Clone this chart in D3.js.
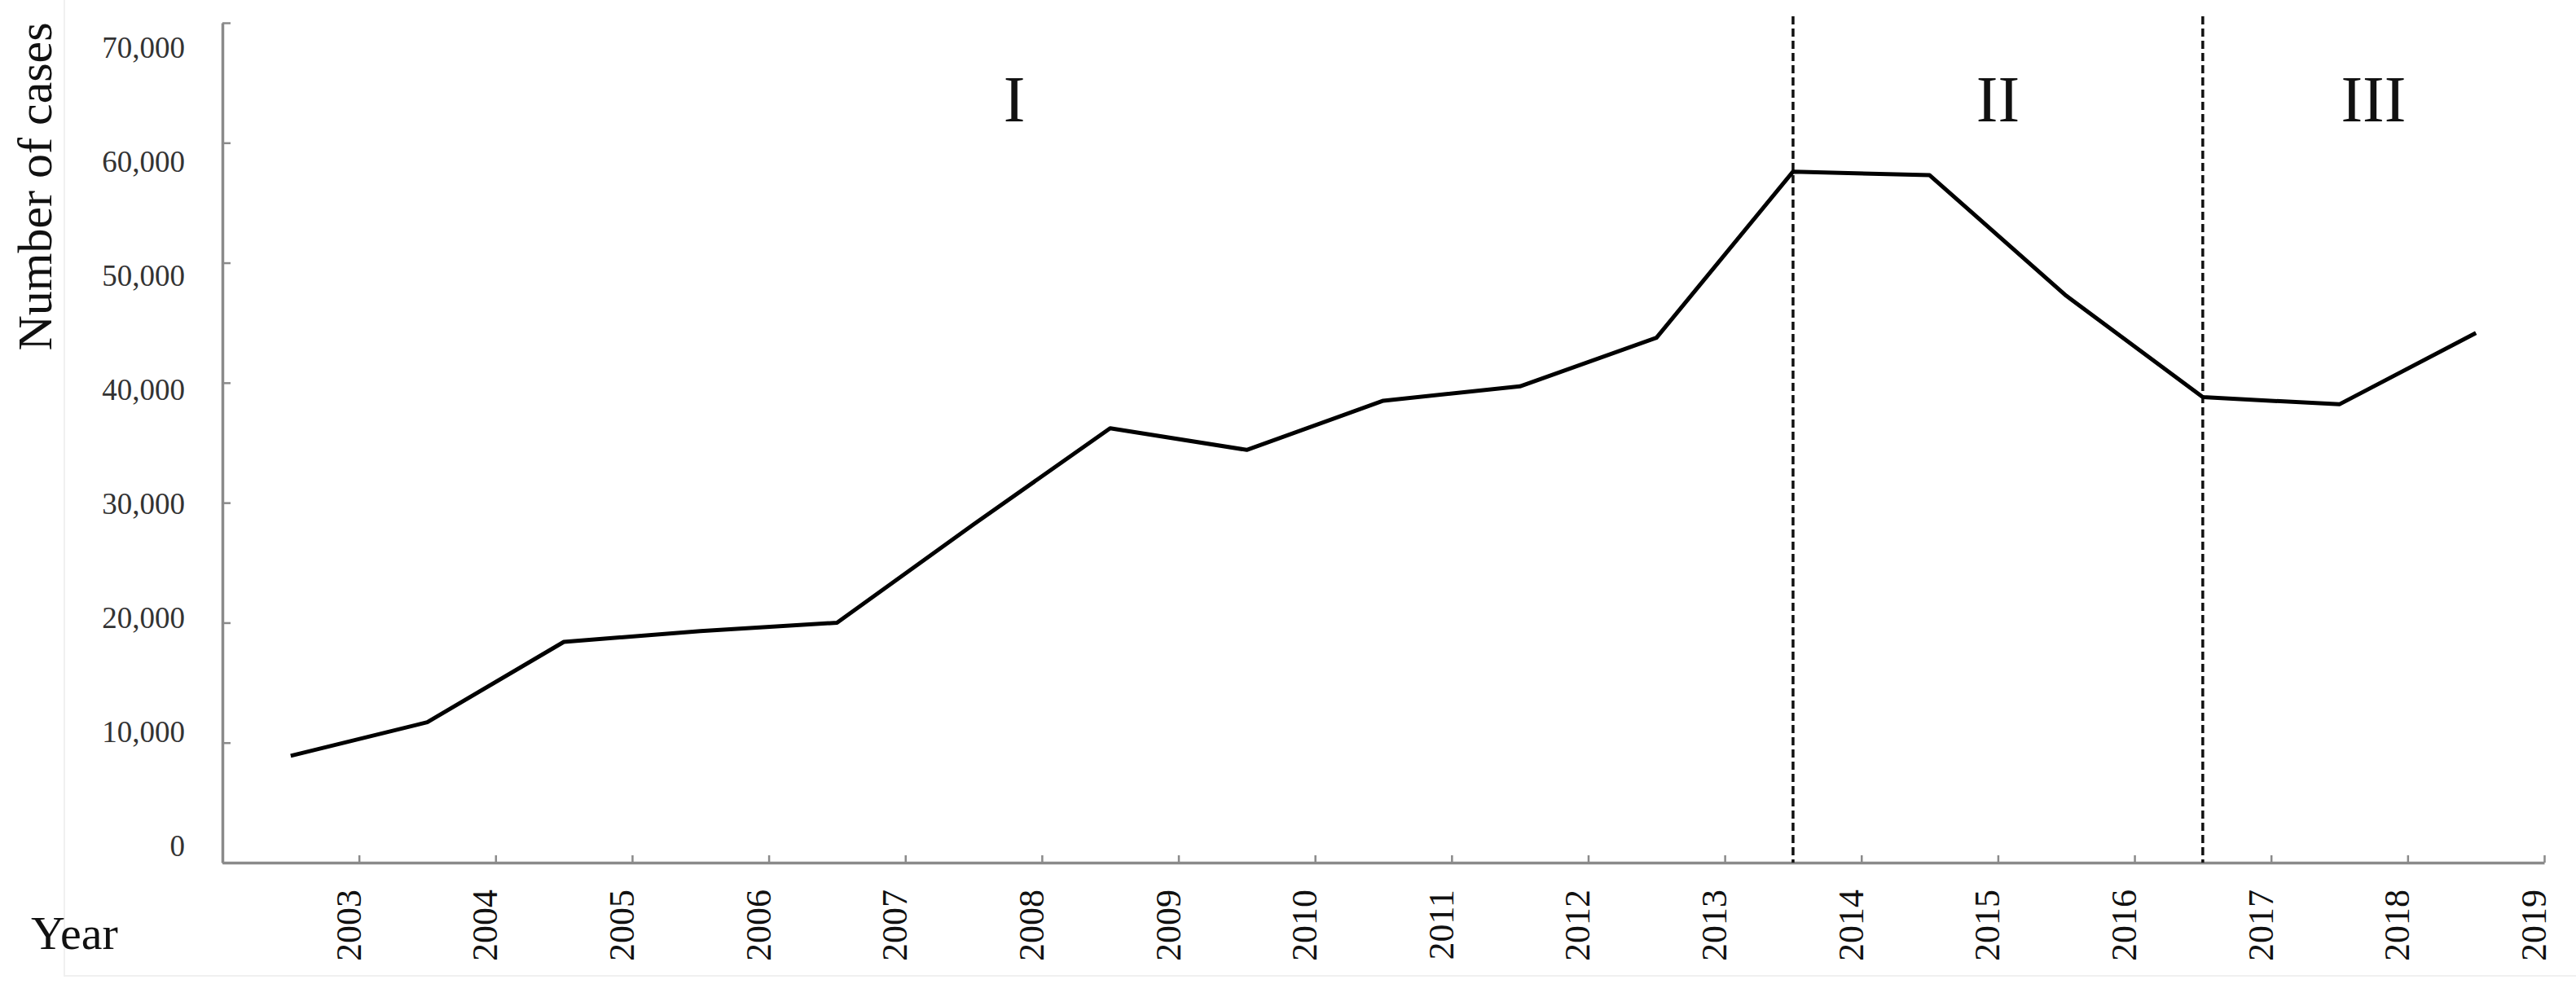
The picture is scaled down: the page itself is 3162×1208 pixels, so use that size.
<!DOCTYPE html>
<html>
<head>
<meta charset="utf-8">
<script src="https://cdn.jsdelivr.net/npm/d3@7"></script>
<style>
  html, body { margin: 0; padding: 0; background: #ffffff; }
  svg { display: block; }
  text { font-family: "Liberation Serif", "Times New Roman", serif; }
</style>
</head>
<body>
<svg id="chart" width="3162" height="1208"></svg>
<script>
// ---- Data ----
const years = ["2003","2004","2005","2006","2007","2008","2009","2010","2011",
               "2012","2013","2014","2015","2016","2017","2018","2019"];
const cases = [8900, 11700, 18400, 19300, 20000, 28200, 36200, 34400, 38500,
               39700, 43750, 57600, 57300, 47250, 38800, 38200, 44150];
const yTicks = [0, 10000, 20000, 30000, 40000, 50000, 60000, 70000];
const phaseLabels = ["I", "II", "III"];
const phaseBreakYears = ["2014", "2017"];
const yTitle = "Number of cases";
const xTitle = "Year";

(function () {
  // ---- Layout ----
  const W = 3162, H = 1208;
  const plotLeft = 273, plotRight = 3123, plotTop = 28, plotBottom = 1059;
  const axisColor = "#8a8a8a";

  const svg = d3.select("#chart");

  // faint frame of the original figure
  svg.append("path")
    .attr("d", `M79,0V1198H${W}`)
    .attr("fill", "none")
    .attr("stroke", "#f0f0f0")
    .attr("stroke-width", 2);

  const x = d3.scaleBand().domain(years).range([plotLeft, plotRight]).paddingInner(0).paddingOuter(0);
  const xEdge = d3.scaleLinear().domain([0, years.length]).range([plotLeft, plotRight]);
  const y = d3.scaleLinear().domain([0, 70000]).range([plotBottom, plotTop]);
  const yLabel = d3.scaleLinear().domain([0, 70000]).range([1038, 58]);

  const cx = d => x(d) + x.bandwidth() / 2;

  // ---- X axis ----
  const xAxis = d3.axisBottom(xEdge)
    .tickValues(d3.range(1, years.length + 1))
    .tickSize(-9)
    .tickSizeOuter(0)
    .tickFormat("");
  const gx = svg.append("g").attr("transform", `translate(0,${plotBottom})`).call(xAxis);
  gx.select(".domain").attr("stroke", axisColor).attr("stroke-width", 3.5);
  gx.selectAll(".tick line").attr("stroke", axisColor).attr("stroke-width", 2.5);

  svg.append("g").selectAll("text")
    .data(years)
    .join("text")
    .attr("transform", d => `translate(${x(d) + x.bandwidth() + 2},1092) rotate(-90)`)
    .attr("text-anchor", "end")
    .attr("font-size", 44)
    .attr("fill", "#111")
    .text(d => d);

  // ---- Y axis ----
  const yAxis = d3.axisLeft(y)
    .tickValues(yTicks)
    .tickSize(-10)
    .tickSizeOuter(0)
    .tickFormat("");
  const gy = svg.append("g").attr("transform", `translate(${plotLeft},0)`).call(yAxis);
  gy.select(".domain").attr("stroke", axisColor).attr("stroke-width", 3.5);
  gy.selectAll(".tick line").attr("stroke", axisColor).attr("stroke-width", 2.5);

  svg.append("g").selectAll("text")
    .data(yTicks)
    .join("text")
    .attr("x", 227)
    .attr("y", d => yLabel(d))
    .attr("dy", "0.35em")
    .attr("text-anchor", "end")
    .attr("font-size", 37)
    .attr("fill", "#333")
    .text(d => d3.format(",")(d));

  // ---- Titles ----
  svg.append("text")
    .attr("transform", "translate(63,229) rotate(-90)")
    .attr("text-anchor", "middle")
    .attr("font-size", 60)
    .attr("fill", "#111")
    .text(yTitle);

  svg.append("text")
    .attr("x", 38)
    .attr("y", 1165)
    .attr("font-size", 58)
    .attr("fill", "#111")
    .text(xTitle);

  // ---- Phase dividers ----
  svg.append("g").selectAll("line")
    .data(phaseBreakYears)
    .join("line")
    .attr("x1", d => cx(d)).attr("x2", d => cx(d))
    .attr("y1", 20).attr("y2", plotBottom)
    .attr("stroke", "#111")
    .attr("stroke-width", 3.5)
    .attr("stroke-dasharray", "10,5");

  const bounds = [plotLeft, ...phaseBreakYears.map(cx), plotRight];
  svg.append("g").selectAll("text")
    .data(phaseLabels)
    .join("text")
    .attr("x", (d, i) => (bounds[i] + bounds[i + 1]) / 2 + (i === 0 ? 8 : 0))
    .attr("y", 149)
    .attr("text-anchor", "middle")
    .attr("font-size", 80)
    .attr("fill", "#111")
    .text(d => d);

  // ---- Line ----
  const line = d3.line()
    .x((d, i) => cx(years[i]))
    .y(d => y(d));

  svg.append("path")
    .datum(cases)
    .attr("d", line)
    .attr("fill", "none")
    .attr("stroke", "#000")
    .attr("stroke-width", 5)
    .attr("stroke-linejoin", "round")
    .attr("stroke-linecap", "butt");
})();
</script>
</body>
</html>
